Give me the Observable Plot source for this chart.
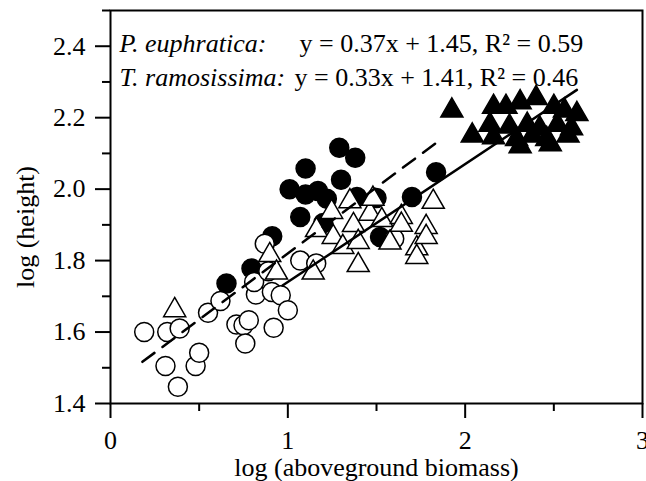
<!DOCTYPE html>
<html><head><meta charset="utf-8">
<script src="https://cdn.jsdelivr.net/npm/d3@7"></script>
<script src="https://cdn.jsdelivr.net/npm/@observablehq/plot@0.6"></script>
<style>body{margin:0;background:#fff}</style>
</head><body><div id="chart"></div>
<script>
// P. euphratica (circles)
const peOpen = [[0.19,1.60],[0.32,1.60],[0.39,1.61],[0.31,1.505],[0.38,1.447],[0.48,1.505],[0.50,1.542],[0.55,1.654],[0.62,1.687],[0.71,1.621],[0.75,1.619],[0.78,1.633],[0.76,1.568],[0.82,1.705],[0.81,1.74],[0.87,1.847],[0.89,1.77],[0.91,1.712],[0.96,1.703],[1.00,1.661],[0.92,1.612],[1.07,1.80],[1.16,1.792],[1.60,1.861]];
const peFilled = [[0.654,1.736],[0.795,1.778],[0.912,1.868],[1.07,1.922],[1.01,2.0],[1.10,2.058],[1.10,1.985],[1.17,1.995],[1.22,1.973],[1.29,2.116],[1.38,2.088],[1.30,2.026],[1.39,1.978],[1.50,1.975],[1.52,1.866],[1.70,1.978],[1.836,2.047],[1.20,1.905]];
// T. ramosissima (triangles)
const trOpen = [[0.362,1.661],[0.898,1.815],[0.936,1.766],[1.143,1.766],[1.162,1.885],[1.247,1.936],[1.256,1.866],[1.31,1.838],[1.35,1.966],[1.37,1.899],[1.397,1.852],[1.397,1.787],[1.463,1.931],[1.48,1.973],[1.53,1.913],[1.576,1.85],[1.64,1.922],[1.64,1.90],[1.727,1.834],[1.727,1.81],[1.78,1.894],[1.78,1.866],[1.82,1.964]];
const trFilled = [[1.925,2.22],[2.04,2.15],[2.16,2.23],[2.23,2.23],[2.31,2.243],[2.40,2.255],[2.50,2.23],[2.56,2.22],[2.63,2.21],[2.14,2.18],[2.25,2.175],[2.35,2.18],[2.42,2.17],[2.52,2.18],[2.60,2.17],[2.16,2.145],[2.29,2.14],[2.38,2.15],[2.46,2.14],[2.58,2.15],[2.31,2.12],[2.48,2.125]];

// regression lines (from the equations printed on the chart)
const fitSlope = [0.37, 0.33];
const fitIntercept = [1.45, 1.41];
const fitXStart = [0.18, 0.97];
const fitXEnd = [1.86, 2.63];
const fitDash = ["15,10", null];

const xMajor = [0, 1, 2, 3];
const xMinor = [0.5, 1.5, 2.5];
const yMajor = [1.4, 1.6, 1.8, 2.0, 2.2, 2.4];
const yMinor = [1.5, 1.7, 1.9, 2.1, 2.3, 2.5];

const annotSpecies = ["P. euphratica:", "T. ramosissima:"];
const annotEq = ["y = 0.37x + 1.45, R\u00B2 = 0.59", "y = 0.33x + 1.41, R\u00B2 = 0.46"];

const FONT = "'Liberation Serif', 'Times New Roman', serif";
const FS = 26;

const fitLines = fitSlope.map((s, i) => [
  {x: fitXStart[i], y: fitIntercept[i] + s * fitXStart[i]},
  {x: fitXEnd[i], y: fitIntercept[i] + s * fitXEnd[i]}
]);

const chart = Plot.plot({
  width: 646, height: 481,
  marginLeft: 110, marginRight: 4, marginTop: 10, marginBottom: 78,
  style: {fontFamily: FONT, fontSize: FS + "px", background: "white", color: "black"},
  x: {domain: [0, 3]},
  y: {domain: [1.4, 2.5]},
  marks: [
    Plot.axisX({ticks: xMajor, tickSize: 15, tickPadding: 12, tickFormat: d => String(d), label: null, strokeWidth: 2, fontSize: FS}),
    Plot.axisX({ticks: xMinor, tickSize: 8, tickFormat: () => "", label: null, strokeWidth: 2}),
    Plot.axisY({ticks: yMajor, tickSize: 15, tickPadding: 10, tickFormat: d => d.toFixed(1), label: null, strokeWidth: 2, fontSize: FS}),
    Plot.axisY({ticks: yMinor, tickSize: 8, tickFormat: () => "", label: null, strokeWidth: 2}),
    Plot.dot(peFilled, {x: d => d[0], y: d => d[1], r: 9.5, fill: "black", stroke: "black", strokeWidth: 1.5}),
    Plot.dot(peOpen, {x: d => d[0], y: d => d[1], r: 9.5, fill: "white", stroke: "black", strokeWidth: 1.5}),
    Plot.dot(trOpen, {x: d => d[0], y: d => d[1], r: 8.2, symbol: "triangle", fill: "white", stroke: "black", strokeWidth: 1.5}),
    Plot.dot(trFilled, {x: d => d[0], y: d => d[1], r: 8.2, symbol: "triangle", fill: "black", stroke: "black", strokeWidth: 1.5}),
    ...fitLines.map((pts, i) => Plot.line(pts, {x: "x", y: "y", stroke: "black", strokeWidth: 2.5, strokeDasharray: fitDash[i]})),
    Plot.frame({stroke: "black", strokeWidth: 2}),
    ...annotSpecies.map((t, i) => Plot.text([t], {text: d => d, frameAnchor: "top-left", dx: 9, dy: 33 + 34 * i, textAnchor: "start", lineAnchor: "middle", fontStyle: "italic", fontSize: FS})),
    ...annotEq.map((t, i) => Plot.text([t], {text: d => d, frameAnchor: "top-left", dx: i === 0 ? 189 : 184, dy: 33 + 34 * i, textAnchor: "start", lineAnchor: "middle", fontSize: FS})),
    Plot.text(["log (height)"], {text: d => d, frameAnchor: "left", dx: -85, dy: 20, rotate: -90, textAnchor: "middle", lineAnchor: "middle", fontSize: FS}),
    Plot.text(["log (aboveground biomass)"], {text: d => d, frameAnchor: "bottom", dy: 64, textAnchor: "middle", lineAnchor: "middle", fontSize: FS})
  ]
});
document.getElementById("chart").appendChild(chart);
</script>
</body></html>
